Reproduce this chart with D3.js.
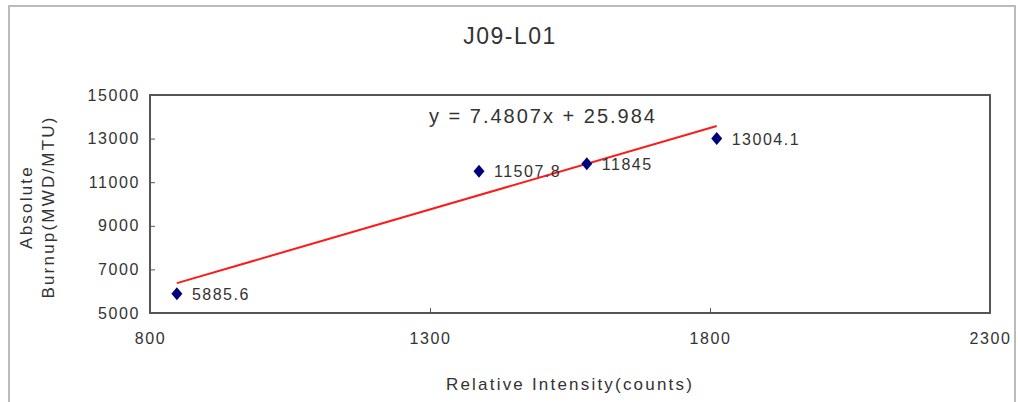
<!DOCTYPE html>
<html>
<head>
<meta charset="utf-8">
<script src="https://cdn.jsdelivr.net/npm/d3@7"></script>
<style>
  body { margin: 0; background: #fff; }
  text { font-family: "Liberation Sans", Arial, sans-serif; fill: #333; }
</style>
</head>
<body>
<svg id="chart" width="1018" height="402"></svg>
<script>
// data
const intensity = [848, 1387.5, 1580, 1812];
const burnup = [5885.6, 11507.8, 11845, 13004.1];
const pointLabels = ['5885.6', '11507.8', '11845', '13004.1'];
const xTicks = [800, 1300, 1800, 2300];
const yTicks = [5000, 7000, 9000, 11000, 13000, 15000];
const slope = 7.4807;
const intercept = 25.984;

const svg = d3.select('#chart');
const plot = { left: 150, right: 990, top: 95, bottom: 313 };

// outer chart frame (no bottom edge visible)
svg.append('path')
    .attr('d', 'M9,402 V6 H1015 V402')
    .attr('fill', 'none')
    .attr('stroke', '#bbb')
    .attr('stroke-width', 2);

const x = d3.scaleLinear().domain([800, 2300]).range([plot.left, plot.right]);
const y = d3.scaleLinear().domain([5000, 15000]).range([plot.bottom, plot.top]);

// plot frame
svg.append('rect')
    .attr('x', plot.left).attr('y', plot.top)
    .attr('width', plot.right - plot.left).attr('height', plot.bottom - plot.top)
    .attr('fill', '#fff').attr('stroke', '#555').attr('stroke-width', 2);

// axes with small inside ticks
const xAxis = svg.append('g')
    .attr('transform', `translate(0,${plot.bottom})`)
    .call(d3.axisBottom(x).tickValues(xTicks).tickSize(-5).tickPadding(20).tickFormat(d3.format('d')));
const yAxis = svg.append('g')
    .attr('transform', `translate(${plot.left},0)`)
    .call(d3.axisLeft(y).tickValues(yTicks).tickSize(-5).tickPadding(10).tickFormat(d3.format('d')));

[xAxis, yAxis].forEach(g => {
    g.select('.domain').remove();
    g.selectAll('.tick line').attr('stroke', '#555');
    g.selectAll('.tick text').attr('font-size', 16).attr('fill', '#333')
        .attr('letter-spacing', 1.6)
        .style('font-family', '"Liberation Sans", Arial, sans-serif');
});
xAxis.selectAll('.tick text').attr('dy', '0.71em');

// trendline from the fitted equation
const xMin = d3.min(intensity), xMax = d3.max(intensity);
svg.append('line')
    .attr('x1', x(xMin)).attr('y1', y(slope * xMin + intercept))
    .attr('x2', x(xMax)).attr('y2', y(slope * xMax + intercept))
    .attr('stroke', '#ff1a1a').attr('stroke-width', 2);

// data points (squat diamonds)
const pts = intensity.map((v, i) => ({ x: v, y: burnup[i], label: pointLabels[i] }));
svg.selectAll('path.pt')
    .data(pts)
    .join('path')
    .attr('class', 'pt')
    .attr('d', 'M0,-6.5 L5.5,0 L0,6.5 L-5.5,0 Z')
    .attr('transform', d => `translate(${x(d.x)},${y(d.y)})`)
    .attr('fill', '#00007a');

svg.selectAll('text.pl')
    .data(pts)
    .join('text')
    .attr('class', 'pl')
    .attr('x', d => x(d.x) + 15)
    .attr('y', d => y(d.y) + 6)
    .attr('font-size', 16)
    .attr('letter-spacing', 1.5)
    .text(d => d.label);

// equation
svg.append('text')
    .attr('x', 429).attr('y', 123)
    .attr('font-size', 20)
    .attr('letter-spacing', 2)
    .attr('fill', '#222')
    .text(`y = ${slope}x + ${intercept}`);

// title
svg.append('text')
    .attr('x', 510).attr('y', 44)
    .attr('text-anchor', 'middle')
    .attr('font-size', 23)
    .attr('letter-spacing', 1.5)
    .text('J09-L01');

// axis titles
svg.append('text')
    .attr('x', 570).attr('y', 390)
    .attr('text-anchor', 'middle')
    .attr('font-size', 17)
    .attr('letter-spacing', 2.2)
    .text('Relative Intensity(counts)');

const yTitle = svg.append('text')
    .attr('transform', 'translate(0,207) rotate(-90)')
    .attr('text-anchor', 'middle')
    .attr('font-size', 17)
    .attr('letter-spacing', 2.2);
yTitle.append('tspan').attr('x', 0).attr('y', 32).text('Absolute');
yTitle.append('tspan').attr('x', 0).attr('y', 54).text('Burnup(MWD/MTU)');
</script>
</body>
</html>
